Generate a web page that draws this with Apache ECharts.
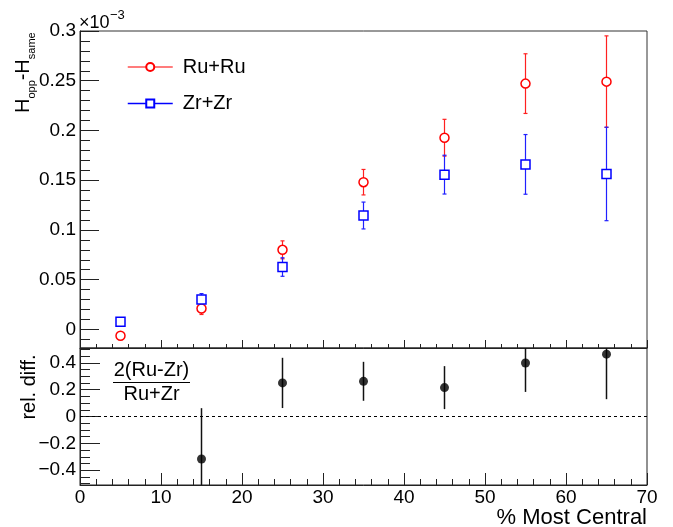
<!DOCTYPE html>
<html>
<head>
<meta charset="utf-8">
<script src="https://cdn.jsdelivr.net/npm/echarts@6/dist/echarts.min.js"></script>
<style>
  html, body { margin: 0; padding: 0; background: #fff; }
  #main { width: 673px; height: 527px; }
</style>
</head>
<body>
<div id="main"></div>
<script>
const FONT = '"Liberation Sans", Arial, Helvetica, sans-serif';

// centrality bins (% most central)
const centrality = [5, 15, 25, 35, 45, 55, 65];
// H_opp - H_same, in units of 1e-3
const ruRu = [-0.0064, 0.021, 0.080, 0.148, 0.1927, 0.2471, 0.2491];
const ruRuErr = [0.003, 0.006, 0.009, 0.0128, 0.0185, 0.030, 0.046];
const zrZr = [0.0076, 0.030, 0.0627, 0.1145, 0.1556, 0.1659, 0.1563];
const zrZrErr = [0.003, 0.006, 0.0093, 0.0135, 0.0195, 0.030, 0.047];
// relative difference 2(Ru-Zr)/(Ru+Zr)
const relDiffX = [15, 25, 35, 45, 55, 65];
const relDiff = [-0.316, 0.25, 0.262, 0.215, 0.398, 0.464];
const relDiffErr = [0.378, 0.187, 0.145, 0.16, 0.215, 0.335];

// axis ticks
const topTicks = [0, 0.05, 0.1, 0.15, 0.2, 0.25, 0.3];
const topMinor = [-0.01, 0.01, 0.02, 0.03, 0.04, 0.06, 0.07, 0.08, 0.09, 0.11, 0.12, 0.13, 0.14,
  0.16, 0.17, 0.18, 0.19, 0.21, 0.22, 0.23, 0.24, 0.26, 0.27, 0.28, 0.29];
const botTicks = [-0.4, -0.2, 0, 0.2, 0.4];
const botMinor = [-0.5, -0.45, -0.35, -0.3, -0.25, -0.15, -0.1, -0.05, 0.05, 0.1, 0.15, 0.25, 0.3, 0.35, 0.45, 0.5];

const chart = echarts.init(document.getElementById('main'));

const fmt = v => String(+(+v).toFixed(3)).replace('-', '\u2212');

function errBars(color, cap, width) {
  return function (params, api) {
    const x = api.value(0);
    const p1 = api.coord([x, api.value(1)]);
    const p2 = api.coord([x, api.value(2)]);
    const cs = params.coordSys;
    const clampY = y => Math.max(cs.y, Math.min(cs.y + cs.height, y));
    const y1 = clampY(p1[1]);
    const y2 = clampY(p2[1]);
    const style = { stroke: color, lineWidth: width };
    const children = [
      { type: 'line', shape: { x1: p1[0], y1: y1, x2: p1[0], y2: y2 }, style }
    ];
    if (cap) {
      children.push({ type: 'line', shape: { x1: p1[0] - cap, y1: y1, x2: p1[0] + cap, y2: y1 }, style });
      children.push({ type: 'line', shape: { x1: p1[0] - cap, y1: y2, x2: p1[0] + cap, y2: y2 }, style });
    }
    return { type: 'group', children };
  };
}

const yTopMin = -0.0187, yTopMax = 0.3;
const yBotMin = -0.51, yBotMax = 0.51;

const axisLine = { show: true, onZero: false, lineStyle: { color: '#222', width: 1 } };
const tickStyle = { color: '#222', width: 1 };
const labelStyle = { fontSize: 19, color: '#000', margin: 4, fontFamily: FONT };

const option = {
  animation: false,
  backgroundColor: '#fff',
  textStyle: { fontFamily: FONT },
  grid: [
    { left: 80, top: 31, width: 567, height: 317, show: true, borderColor: '#333', borderWidth: 1,
      backgroundColor: 'transparent', containLabel: false, outerBoundsMode: 'none' },
    { left: 80, top: 348, width: 567, height: 137, show: true, borderColor: '#222', borderWidth: 1,
      backgroundColor: 'transparent', containLabel: false, outerBoundsMode: 'none' }
  ],
  legend: {
    orient: 'vertical',
    left: 127,
    top: 57,
    padding: 0,
    itemWidth: 45,
    itemHeight: 10,
    itemGap: 16.5,
    data: ['Ru+Ru', 'Zr+Zr'],
    textStyle: { fontSize: 20, color: '#000', fontFamily: FONT, padding: [0, 0, 0, 5] },
    lineStyle: { opacity: 1, width: 1.5 },
    selectedMode: false
  },
  xAxis: [
    {
      type: 'value', gridIndex: 0, min: 0, max: 70, interval: 10,
      axisLine: axisLine,
      axisTick: { show: true, inside: true, length: 8, lineStyle: tickStyle },
      minorTick: { show: true, splitNumber: 5, length: 4, lineStyle: tickStyle },
      axisLabel: { show: false },
      splitLine: { show: false }
    },
    {
      type: 'value', gridIndex: 1, min: 0, max: 70, interval: 10,
      axisLine: axisLine,
      axisTick: { show: true, inside: true, length: 12, lineStyle: tickStyle },
      minorTick: { show: true, splitNumber: 5, length: 6, lineStyle: tickStyle },
      axisLabel: Object.assign({ show: true }, labelStyle, { margin: 3 }),
      splitLine: { show: false }
    }
  ],
  yAxis: [
    {
      type: 'value', gridIndex: 0, min: yTopMin, max: yTopMax,
      axisLine: axisLine,
      axisTick: { show: true, inside: true, length: 19, customValues: topTicks, lineStyle: tickStyle },
      axisLabel: Object.assign({ show: true, customValues: topTicks, formatter: fmt }, labelStyle),
      splitLine: { show: false }
    },
    {
      type: 'value', gridIndex: 0, min: yTopMin, max: yTopMax, position: 'left',
      axisLine: { show: false, onZero: false },
      axisTick: { show: true, inside: true, length: 10, customValues: topMinor, lineStyle: tickStyle },
      axisLabel: { show: false },
      splitLine: { show: false }
    },
    {
      type: 'value', gridIndex: 1, min: yBotMin, max: yBotMax,
      axisLine: axisLine,
      axisTick: { show: true, inside: true, length: 20, customValues: botTicks, lineStyle: tickStyle },
      axisLabel: Object.assign({ show: true, customValues: botTicks, formatter: fmt }, labelStyle),
      splitLine: { show: false }
    },
    {
      type: 'value', gridIndex: 1, min: yBotMin, max: yBotMax, position: 'left',
      axisLine: { show: false, onZero: false },
      axisTick: { show: true, inside: true, length: 10, customValues: botMinor, lineStyle: tickStyle },
      axisLabel: { show: false },
      splitLine: { show: false }
    }
  ],
  series: [
    {
      type: 'custom', name: 'Ru+Ru err', xAxisIndex: 0, yAxisIndex: 0, z: 2, silent: true,
      renderItem: errBars('#ff2020', 2, 1.2),
      encode: { x: 0, y: [1, 2] },
      data: centrality.map((x, i) => [x, ruRu[i] - ruRuErr[i], ruRu[i] + ruRuErr[i]])
    },
    {
      type: 'custom', name: 'Zr+Zr err', xAxisIndex: 0, yAxisIndex: 0, z: 2, silent: true,
      renderItem: errBars('#2020ff', 2, 1.2),
      encode: { x: 0, y: [1, 2] },
      data: centrality.map((x, i) => [x, zrZr[i] - zrZrErr[i], zrZr[i] + zrZrErr[i]])
    },
    {
      type: 'line', name: 'Ru+Ru', xAxisIndex: 0, yAxisIndex: 0, z: 4, silent: true,
      symbol: 'circle', symbolSize: 9, showSymbol: true,
      itemStyle: { color: '#fff', borderColor: '#ff0000', borderWidth: 1.5 },
      lineStyle: { color: '#ff5050', width: 1.5, opacity: 0 },
      data: centrality.map((x, i) => [x, ruRu[i]])
    },
    {
      type: 'line', name: 'Zr+Zr', xAxisIndex: 0, yAxisIndex: 0, z: 4, silent: true,
      symbol: 'rect', symbolSize: 9, showSymbol: true,
      itemStyle: { color: '#fff', borderColor: '#0000ff', borderWidth: 1.5 },
      lineStyle: { color: '#0000ff', width: 1.5, opacity: 0 },
      data: centrality.map((x, i) => [x, zrZr[i]])
    },
    {
      type: 'custom', name: 'rel err', xAxisIndex: 1, yAxisIndex: 2, z: 2, silent: true,
      renderItem: errBars('#111', 0, 1.5),
      encode: { x: 0, y: [1, 2] },
      data: relDiffX.map((x, i) => [x, relDiff[i] - relDiffErr[i], relDiff[i] + relDiffErr[i]])
    },
    {
      type: 'scatter', name: 'rel. diff.', xAxisIndex: 1, yAxisIndex: 2, z: 4, silent: true,
      symbol: 'circle', symbolSize: 9,
      itemStyle: { color: '#000' },
      data: relDiffX.map((x, i) => [x, relDiff[i]]),
      markLine: {
        silent: true, symbol: 'none', label: { show: false },
        lineStyle: { color: '#000', width: 1, type: [3, 3] },
        data: [{ yAxis: 0 }]
      }
    }
  ],
  graphic: [
    // y title top panel: H_opp - H_same (rotated)
    {
      type: 'group', x: 23, y: 113, rotation: Math.PI / 2,
      children: [
        { type: 'text', x: 0, y: 0, style: { text: 'H', fontSize: 20, fontFamily: FONT, fill: '#000', verticalAlign: 'middle', align: 'left' } },
        { type: 'text', x: 14.4, y: 9, style: { text: 'opp', fontSize: 11, fontFamily: FONT, fill: '#000', verticalAlign: 'middle', align: 'left' } },
        { type: 'text', x: 32.7, y: 0, style: { text: '-H', fontSize: 20, fontFamily: FONT, fill: '#000', verticalAlign: 'middle', align: 'left' } },
        { type: 'text', x: 53.8, y: 9, style: { text: 'same', fontSize: 11, fontFamily: FONT, fill: '#000', verticalAlign: 'middle', align: 'left' } }
      ]
    },
    // exponent
    { type: 'text', x: 79, y: 23.5, style: { text: '\u00d710', fontSize: 18, fontFamily: FONT, fill: '#000', verticalAlign: 'middle', align: 'left' } },
    { type: 'text', x: 110, y: 15, style: { text: '\u22123', fontSize: 13, fontFamily: FONT, fill: '#000', verticalAlign: 'middle', align: 'left' } },
    // x axis title
    { type: 'text', x: 647, y: 518, style: { text: '% Most Central', fontSize: 22, fontFamily: FONT, fill: '#000', verticalAlign: 'middle', align: 'right' } },
    // lower panel y title
    { type: 'text', x: 29, y: 387, rotation: Math.PI / 2, style: { text: 'rel. diff.', fontSize: 20, fontFamily: FONT, fill: '#000', verticalAlign: 'middle', align: 'center' } },
    // fraction label
    { type: 'text', x: 151.5, y: 370, style: { text: '2(Ru-Zr)', fontSize: 20, fontFamily: FONT, fill: '#000', verticalAlign: 'middle', align: 'center' } },
    { type: 'line', shape: { x1: 113, y1: 382.5, x2: 190, y2: 382.5 }, style: { stroke: '#000', lineWidth: 1 } },
    { type: 'text', x: 151.5, y: 394.5, style: { text: 'Ru+Zr', fontSize: 20, fontFamily: FONT, fill: '#000', verticalAlign: 'middle', align: 'center' } }
  ]
};

chart.setOption(option);
</script>
</body>
</html>
